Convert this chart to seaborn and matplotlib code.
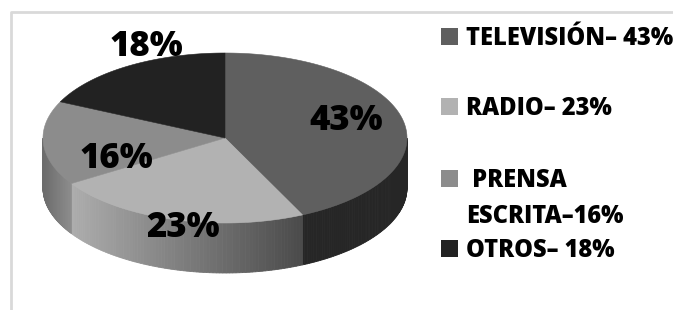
import numpy as np
import seaborn as sns
import matplotlib.pyplot as plt
from matplotlib.patches import Polygon, Rectangle

# datos
categorias = ["TELEVISIÓN", "RADIO", "PRENSA ESCRITA", "OTROS"]
porcentajes = [43, 23, 16, 18]
leyenda = ["TELEVISIÓN– 43%", "RADIO– 23%", " PRENSA\nESCRITA–16%", "OTROS– 18%"]

# estilo
colores_top = ["#5f5f5f", "#b2b2b2", "#8c8c8c", "#222222"]
colores_lado = [("#262626", "#262626"), ("#adadad", "#4a4a4a"),
                ("#6c6c6c", "#8e8e8e"), ("#1a1a1a", "#1a1a1a")]
pos_etiquetas = [(346, 130), (183, 237), (116, 168), (146, 56)]  # base del texto
base_leyenda = [45, 115, 187, 257]

sns.set_style("white")
plt.rcParams['font.family'] = ['Open Sans', 'DejaVu Sans']

fig = plt.figure(figsize=(6.73, 3.10), dpi=100)
ax = fig.add_axes([0, 0, 1, 1])
ax.set_xlim(0, 673)
ax.set_ylim(310, 0)
ax.axis("off")

# marco gris
ax.plot([11, 11, 680], [320, 12, 12], color="#d9d9d9", lw=2, solid_capstyle="butt")

cx, cy, rx, ry, prof = 225, 138, 182, 85, 50


def punto(t):
    return cx + rx * np.sin(t), cy - ry * np.cos(t)


def rgb(h):
    return np.array([int(h[i:i + 2], 16) / 255 for i in (1, 3, 5)])


frac = np.array(porcentajes) / sum(porcentajes)
inicio = np.concatenate([[0], np.cumsum(frac)[:-1]]) * 2 * np.pi
fin = np.cumsum(frac) * 2 * np.pi

# lados (parte frontal visible), gradiente de izquierda a derecha
for a, b, (c1, c2) in zip(inicio, fin, colores_lado):
    a2, b2 = max(a, np.pi / 2), min(b, 3 * np.pi / 2)
    if b2 <= a2:
        continue
    n = 80
    ts = np.linspace(a2, b2, n + 1)
    xa, xb = punto(a2)[0], punto(b2)[0]
    xmin, xmax = min(xa, xb), max(xa, xb)
    for k in range(n):
        x0, y0 = punto(ts[k])
        x1, y1 = punto(ts[k + 1])
        u = np.clip(((x0 + x1) / 2 - xmin) / (xmax - xmin + 1e-9), 0, 1)
        col = rgb(c1) + (rgb(c2) - rgb(c1)) * u
        quad = [(x0, y0), (x1, y1), (x1, y1 + prof), (x0, y0 + prof)]
        ax.add_patch(Polygon(quad, closed=True, facecolor=col, edgecolor=col, lw=0.6))

# caras superiores
for a, b, col in zip(inicio, fin, colores_top):
    ts = np.linspace(a, b, 200)
    pts = [(cx, cy)] + [punto(t) for t in ts]
    ax.add_patch(Polygon(pts, closed=True, facecolor=col, edgecolor=col, lw=0.4))

# etiquetas de porcentaje
for v, (x, y) in zip(porcentajes, pos_etiquetas):
    ax.text(x, y, f"{v}%", ha="center", va="baseline", fontsize=25,
            fontweight="heavy", color="black")

# leyenda
for txt, col, y in zip(leyenda, colores_top, base_leyenda):
    ax.add_patch(Rectangle((441, y - 17), 17, 17, facecolor=col, edgecolor="none"))
    for j, linea in enumerate(txt.split("\n")):
        ax.text(466, y + j * 36, linea, ha="left", va="baseline", fontsize=17,
                fontweight="heavy", color="black")

fig.savefig("out.png", dpi=100)
